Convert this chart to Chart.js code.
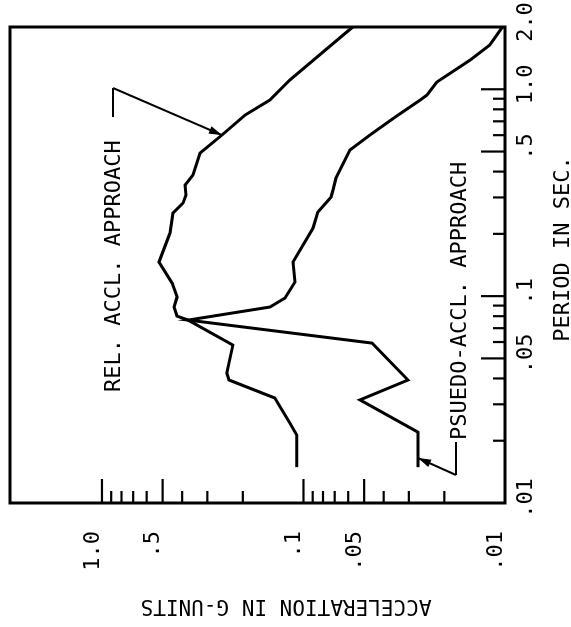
<!DOCTYPE html>
<html>
<head>
<meta charset="utf-8">
<script src="https://cdn.jsdelivr.net/npm/chart.js@4"></script>
<style>
  html, body { margin: 0; padding: 0; background: #fff; }
  body { width: 571px; height: 627px; position: relative; overflow: hidden; }
  /* the plot is drawn upright and then turned a quarter turn, like the scanned page */
  #wrap { position: absolute; left: -28px; top: 28px; width: 627px; height: 571px; transform: rotate(-90deg); }
</style>
</head>
<body>
<div id="wrap"><canvas id="chart" width="627" height="571"></canvas></div>
<script>
// REL. ACCL. APPROACH (period in sec, acceleration in g)
const relPeriod = [0.0149, 0.0213, 0.0244, 0.0322, 0.0393, 0.0425, 0.058, 0.0766, 0.0801, 0.0886, 0.099, 0.1157, 0.1462, 0.2018, 0.2521, 0.2818, 0.308, 0.3443, 0.3848, 0.4915, 0.6006, 0.7503, 0.8867, 1.108, 2.0];
const relAccel = [0.108, 0.108, 0.117, 0.139, 0.234, 0.240, 0.224, 0.374, 0.424, 0.439, 0.424, 0.449, 0.521, 0.460, 0.444, 0.396, 0.383, 0.387, 0.354, 0.326, 0.254, 0.195, 0.147, 0.117, 0.057];

// PSUEDO-ACCL. APPROACH
const pseudoPeriod = [0.0149, 0.022, 0.0315, 0.0393, 0.0593, 0.0766, 0.0886, 0.0979, 0.117, 0.1462, 0.2133, 0.2549, 0.3013, 0.3257, 0.3723, 0.5083, 0.6006, 0.7337, 0.8867, 0.9375, 1.083, 1.384, 1.635, 2.0];
const pseudoAccel = [0.027, 0.027, 0.0524, 0.0303, 0.0457, 0.374, 0.1466, 0.1235, 0.1102, 0.1127, 0.0897, 0.0848, 0.073, 0.0714, 0.069, 0.0588, 0.0468, 0.0351, 0.0264, 0.0244, 0.0218, 0.0149, 0.0119, 0.0103];

const periodTicks = [0.01, 0.05, 0.1, 0.5, 1, 2];
const periodLabels = [".01", ".05", ".1", ".5", "1.0", "2.0"];
const accelTicks = [0.01, 0.05, 0.1, 0.5, 1];
const accelLabels = [".01", ".05", ".1", ".5", "1.0"];

const majorMarks = [0.05, 0.1, 0.5, 1];
const minorMarks = [0.02, 0.03, 0.04, 0.06, 0.07, 0.08, 0.09, 0.2, 0.3, 0.4, 0.6, 0.7, 0.8, 0.9];

// where the two leader arrows touch the curves
const relArrowAt = [0.6006, 0.254];
const pseudoArrowAt = [0.0165, 0.027];

const FONT = '"DejaVu Sans Mono", "Liberation Mono", monospace';
Chart.defaults.color = "#000";
Chart.defaults.font.family = FONT;

function toPoints(xs, ys) {
  return xs.map((x, i) => ({ x: x, y: ys[i] }));
}

function arrow(ctx, x1, y1, x2, y2) {
  const ang = Math.atan2(y2 - y1, x2 - x1);
  ctx.beginPath();
  ctx.moveTo(x1, y1);
  ctx.lineTo(x2, y2);
  ctx.stroke();
  ctx.beginPath();
  ctx.moveTo(x2, y2);
  ctx.lineTo(x2 - 13 * Math.cos(ang) + 4 * Math.sin(ang), y2 - 13 * Math.sin(ang) - 4 * Math.cos(ang));
  ctx.lineTo(x2 - 13 * Math.cos(ang) - 4 * Math.sin(ang), y2 - 13 * Math.sin(ang) + 4 * Math.cos(ang));
  ctx.closePath();
  ctx.fill();
}

const frameAndNotes = {
  id: "frameAndNotes",
  afterDraw(chart) {
    const ctx = chart.ctx;
    const area = chart.chartArea;
    const xs = chart.scales.x;
    const ys = chart.scales.y;
    ctx.save();
    ctx.strokeStyle = "#000";
    ctx.fillStyle = "#000";
    ctx.lineWidth = 3;
    ctx.strokeRect(area.left, area.top, area.right - area.left, area.bottom - area.top);

    // inward tick marks
    ctx.lineWidth = 2.2;
    const mark = (v, len) => {
      const px = xs.getPixelForValue(v);
      ctx.beginPath();
      ctx.moveTo(px, area.bottom);
      ctx.lineTo(px, area.bottom - len);
      ctx.stroke();
      const py = ys.getPixelForValue(v);
      ctx.beginPath();
      ctx.moveTo(area.left, py);
      ctx.lineTo(area.left + len, py);
      ctx.stroke();
    };
    majorMarks.forEach(v => mark(v, 24));
    minorMarks.forEach(v => mark(v, 12));

    // axis titles
    ctx.font = "22px " + FONT;
    ctx.textAlign = "center";
    ctx.textBaseline = "alphabetic";
    ctx.fillText("PERIOD IN SEC.", 378, 569);

    ctx.save();
    ctx.font = "21px " + FONT;
    ctx.translate(27, 286);
    ctx.rotate(-Math.PI / 2);
    ctx.fillText("ACCELERATION IN G-UNITS", 0, 0);
    ctx.restore();

    // curve labels with leaders
    ctx.font = "22px " + FONT;
    ctx.textAlign = "left";
    ctx.fillText("REL. ACCL. APPROACH", 235, 120);
    ctx.fillText("PSUEDO-ACCL. APPROACH", 187, 466);

    ctx.lineWidth = 2;
    ctx.beginPath();
    ctx.moveTo(510, 113);
    ctx.lineTo(539, 113);
    ctx.stroke();
    arrow(ctx, 539, 113, xs.getPixelForValue(relArrowAt[0]), ys.getPixelForValue(relArrowAt[1]));

    ctx.beginPath();
    ctx.moveTo(185, 456);
    ctx.lineTo(152, 456);
    ctx.stroke();
    arrow(ctx, 152, 456, xs.getPixelForValue(pseudoArrowAt[0]), ys.getPixelForValue(pseudoArrowAt[1]));
    ctx.restore();
  }
};

function fixSize(prop, size) {
  return function (scale) {
    scale[prop] = size;
    scale.paddingLeft = 0;
    scale.paddingRight = 0;
    scale.paddingTop = 0;
    scale.paddingBottom = 0;
  };
}

const lineStyle = {
  borderColor: "#000",
  borderWidth: 3,
  pointRadius: 0,
  tension: 0,
  fill: false
};

new Chart(document.getElementById("chart"), {
  type: "line",
  data: {
    datasets: [
      Object.assign({ label: "REL. ACCL. APPROACH", data: toPoints(relPeriod, relAccel) }, lineStyle),
      Object.assign({ label: "PSUEDO-ACCL. APPROACH", data: toPoints(pseudoPeriod, pseudoAccel) }, lineStyle)
    ]
  },
  options: {
    responsive: false,
    animation: false,
    devicePixelRatio: 1,
    layout: { padding: { top: 10, right: 27, left: 0, bottom: 0 } },
    plugins: { legend: { display: false }, tooltip: { enabled: false } },
    scales: {
      x: {
        type: "logarithmic",
        position: "bottom",
        min: 0.01,
        max: 2,
        grid: { display: false, drawTicks: false },
        border: { display: false },
        afterBuildTicks: scale => { scale.ticks = periodTicks.map(v => ({ value: v })); },
        afterFit: fixSize("height", 66),
        ticks: {
          autoSkip: false,
          maxRotation: 0,
          minRotation: 0,
          padding: 8,
          labelOffset: 5,
          font: { size: 22, family: FONT },
          callback: (value, index) => periodLabels[index]
        }
      },
      y: {
        type: "logarithmic",
        position: "left",
        min: 0.01,
        max: 2.86,
        grid: { display: false, drawTicks: false },
        border: { display: false },
        afterBuildTicks: scale => { scale.ticks = accelTicks.map(v => ({ value: v })); },
        afterFit: fixSize("width", 124),
        ticks: {
          autoSkip: false,
          padding: 28,
          labelOffset: -9,
          font: { size: 22, family: FONT },
          callback: (value, index) => accelLabels[index]
        }
      }
    }
  },
  plugins: [frameAndNotes]
});
</script>
</body>
</html>
